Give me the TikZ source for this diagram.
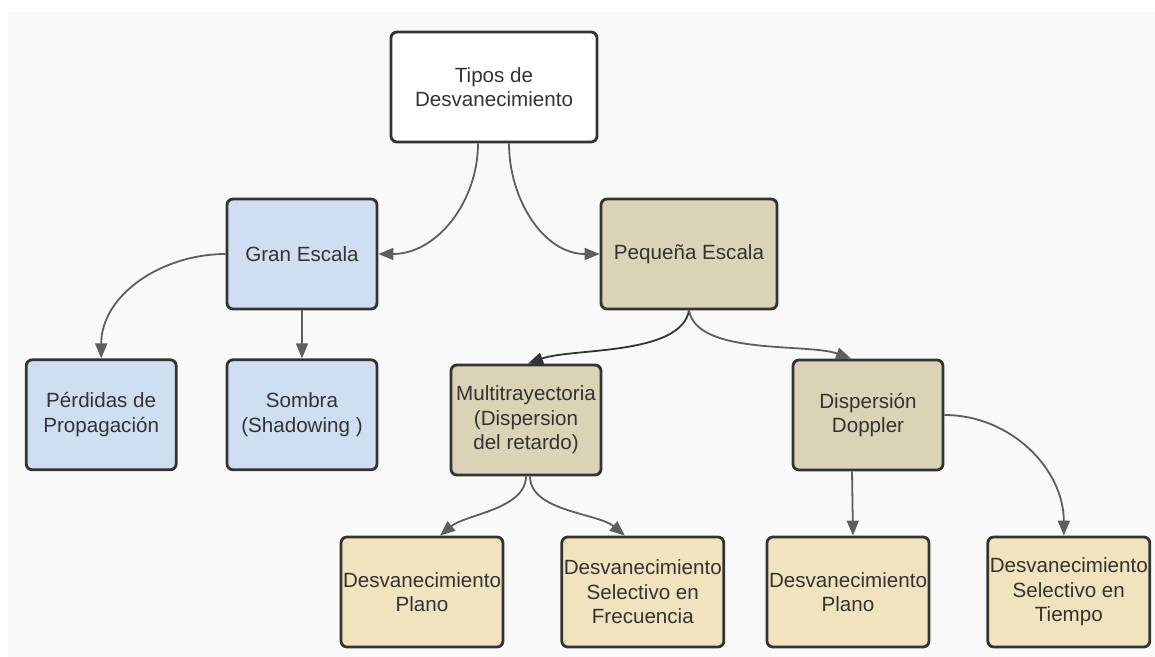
\documentclass[tikz,border=0pt]{standalone}
\usepackage{fontspec}
\setmainfont{Liberation Sans}
\usetikzlibrary{arrows.meta, positioning}

\definecolor{fondo}{HTML}{F9F9F9}
\definecolor{borde}{HTML}{333333}
\definecolor{texto}{HTML}{333333}
\definecolor{linea}{HTML}{5E5E5E}
\definecolor{azul}{HTML}{CFDEF0}
\definecolor{pardo}{HTML}{DAD3B6}
\definecolor{crema}{HTML}{F0E3BE}

\begin{document}
\begin{tikzpicture}[x=0.5pt, y=0.5pt, >={Triangle[length=7.5pt, width=6pt]},
    caja/.style={draw=borde, line width=1.4pt, rounded corners=3pt,
                 minimum width=75pt, minimum height=55pt, inner sep=1pt,
                 align=center, text=texto,
                 font=\fontsize{10.3}{12.3}\selectfont},
    flecha/.style={->, line width=0.9pt, draw=linea}]

  % fondo y margenes
  \useasboundingbox (0,0) rectangle (1155,-657);
  \fill[fondo] (8,-12) rectangle (1155,-657);

  % nivel 0
  \node[caja, fill=white, minimum width=103pt] (tipos) at (494,-87)
    {Tipos de\\Desvanecimiento};

  % nivel 1
  \node[caja, fill=azul] (gran) at (302,-254) {Gran Escala};
  \node[caja, fill=pardo, minimum width=88pt] (pequena) at (689,-254)
    {Pequeña Escala};

  % nivel 2
  \node[caja, fill=azul, below=24pt of gran] (sombra)
    {Sombra\\(Shadowing )};
  \node[caja, fill=azul, left=24pt of sombra] (perdidas)
    {Pérdidas de\\Propagación};
  \node[caja, fill=pardo] (multi) at (526,-420)
    {Multitrayectoria\\(Dispersion\\del retardo)};
  \node[caja, fill=pardo] (doppler) at (868,-415)
    {Dispersión\\Doppler};

  % nivel 3
  \node[caja, fill=crema, minimum width=79pt] (planoA) at (422,-592)
    {Desvanecimiento\\Plano};
  \node[caja, fill=crema, minimum width=79pt, right=28pt of planoA] (selfrec)
    {Desvanecimiento\\Selectivo en\\Frecuencia};
  \node[caja, fill=crema, minimum width=79pt] (planoB) at (848,-592)
    {Desvanecimiento\\Plano};
  \node[caja, fill=crema, minimum width=79pt, right=28pt of planoB] (seltiempo)
    {Desvanecimiento\\Selectivo en\\Tiempo};

  % conectores
  \draw[flecha] ([xshift=-8pt]tipos.south) to[out=-90, in=0] (gran.east);
  \draw[flecha] ([xshift=7.5pt]tipos.south) to[out=-90, in=180] (pequena.west);
  \draw[flecha] (gran.west) to[out=180, in=90] (perdidas.north);
  \draw[flecha] (gran) -- (sombra);
  \draw[flecha, draw=borde] (pequena.south)
    to[out=-100, in=20, looseness=0.7] ([xshift=1pt]multi.north);
  \draw[flecha] (pequena.south)
    to[out=-80, in=160, looseness=0.7] ([xshift=-8.5pt]doppler.north);
  \draw[flecha] (multi.south)
    to[out=-90, in=40, looseness=0.8] ([xshift=9pt]planoA.north);
  \draw[flecha] ([xshift=2pt]multi.south)
    to[out=-90, in=140, looseness=0.8] ([xshift=-9pt]selfrec.north);
  \draw[flecha] ([xshift=-8pt]doppler.south) -- ([xshift=2.5pt]planoB.north);
  \draw[flecha] (doppler.east) to[out=0, in=90] ([xshift=-2.5pt]seltiempo.north);
\end{tikzpicture}
\end{document}
